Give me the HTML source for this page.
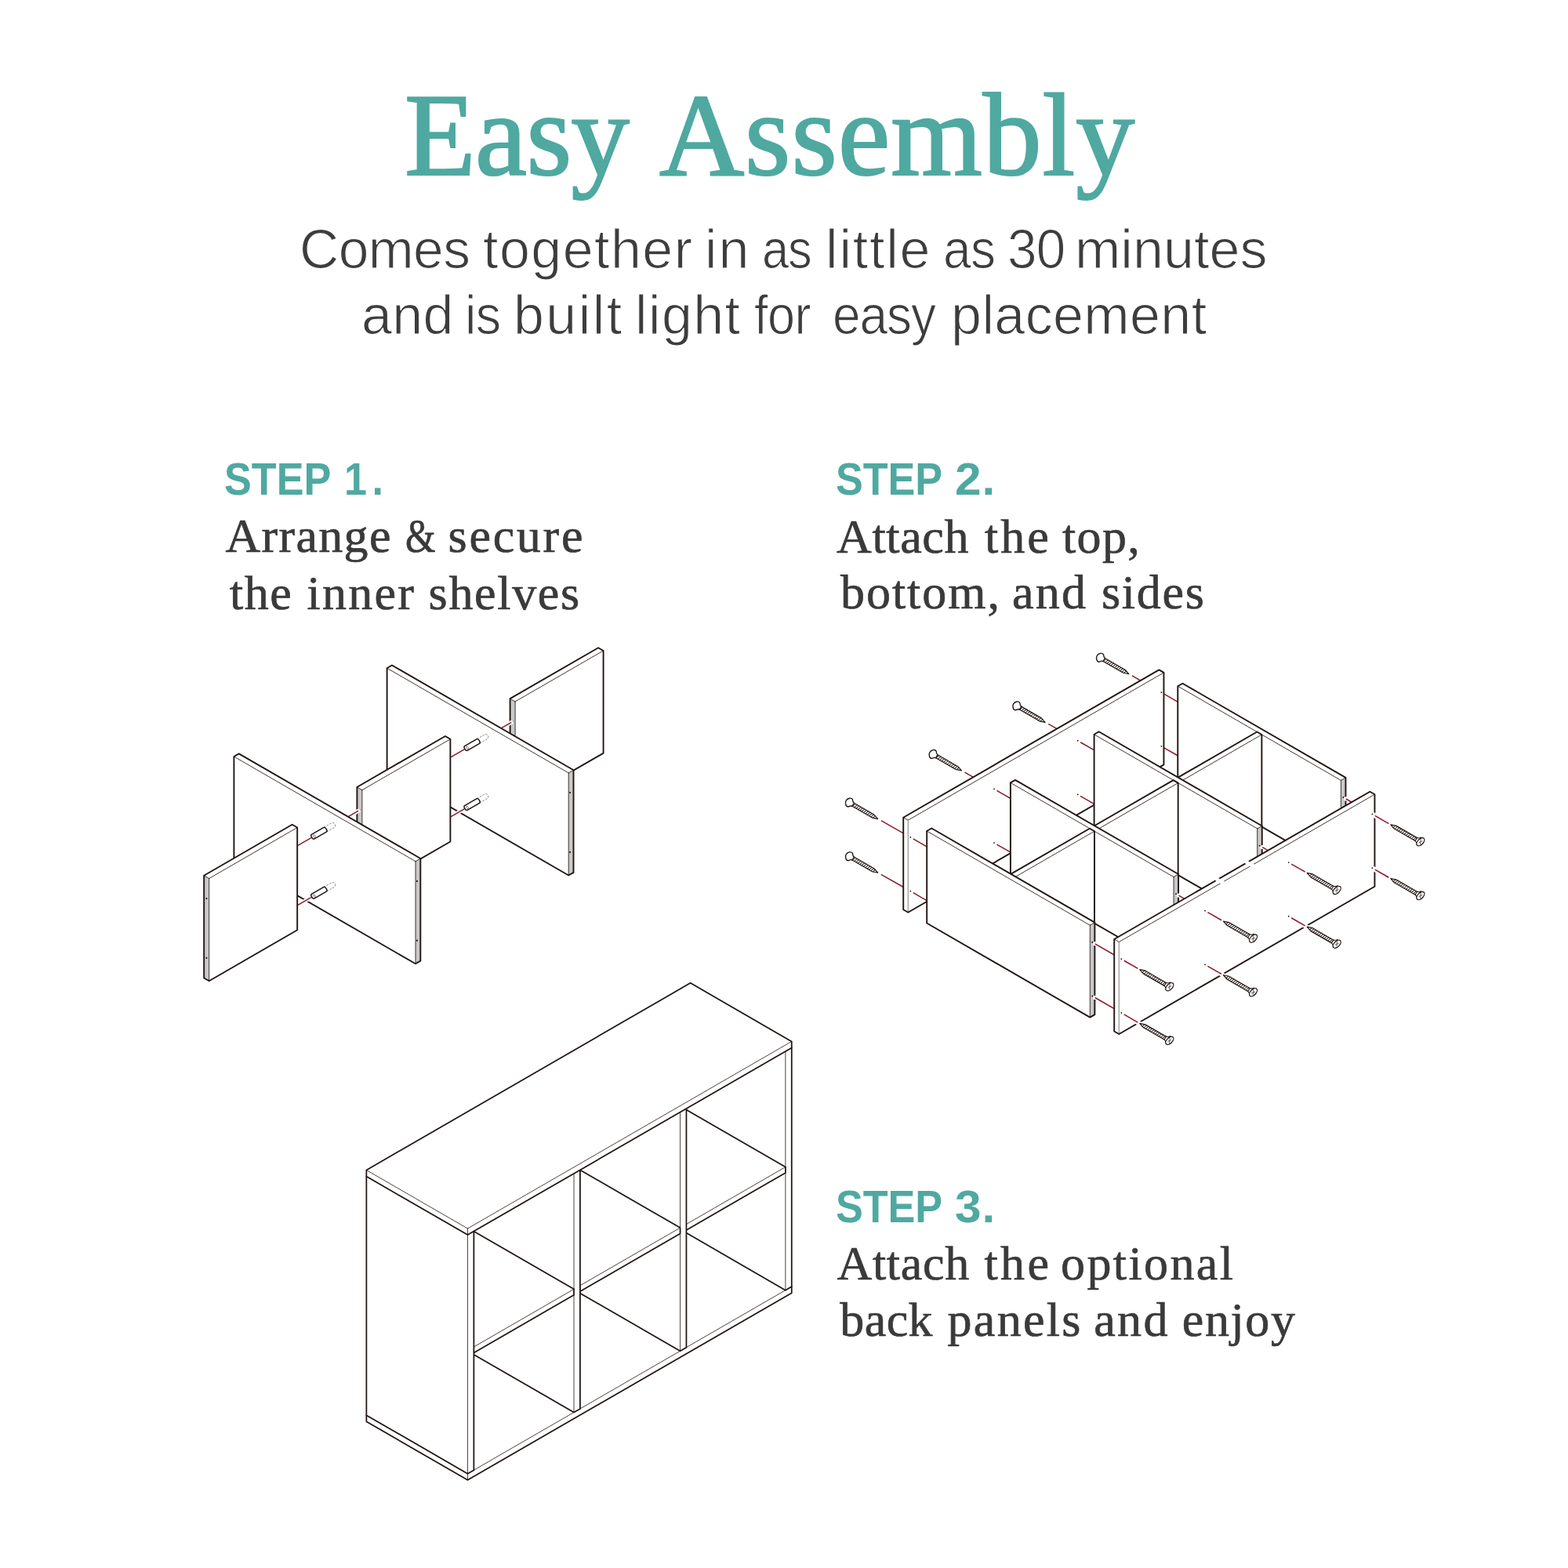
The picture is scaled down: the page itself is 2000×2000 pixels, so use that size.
<!DOCTYPE html><html lang="en"><head><meta charset="utf-8"><title>Easy Assembly</title><style>
html,body{margin:0;padding:0;background:#fff}
body{width:2000px;height:2000px;position:relative;overflow:hidden;font-family:"Liberation Sans",sans-serif}
.art{position:absolute;left:0;top:0;display:block}
.t{position:absolute;left:0;margin:0;padding:0;width:2000px;height:1em;white-space:nowrap;line-height:1;font-weight:400}
.w{position:absolute;top:0;left:0;white-space:pre;transform-origin:0 0}
.title{font-family:"Liberation Serif",serif;color:#4fa9a1}
.sub{font-family:"Liberation Sans",sans-serif;color:#3d3d3d}
.step{font-family:"Liberation Sans",sans-serif;font-weight:700;color:#4fa9a1}
.desc{font-family:"Liberation Serif",serif;color:#3a3a3a}
</style></head><body>
<svg width="2000" height="2000" viewBox="0 0 2000 2000" class="art"><style>.k{fill:none;stroke:#1f1512;stroke-width:1.9;stroke-linejoin:round}.n{fill:none;stroke:#1f1512;stroke-width:0.85;stroke-linecap:round}.d3 .k{stroke-width:1.75}.d3 .n{stroke-width:.8}.r{stroke:#8a1626;stroke-width:1.45}.h{stroke:#fff;stroke-width:5;stroke-linecap:round}</style><defs><symbol id="dw" overflow="visible"><g transform="rotate(-30)"><path d="M18 -3.3H29.5A2.9 3.3 0 0 1 29.5 3.3H18" fill="none" stroke="#7a7a7a" stroke-width="0.8" stroke-dasharray="2.6 1.6"/><path d="M0 -3.3H18A1.7 3.3 0 0 1 18 3.3H0A1.7 3.3 0 0 1 0 -3.3Z" fill="#fff" stroke="#1f1512" stroke-width="1.5" stroke-linejoin="round"/><ellipse cx="1.9" cy="0.3" rx="1.1" ry="1.9" fill="none" stroke="#1f1512" stroke-width="0.5"/></g></symbol><symbol id="sc" overflow="visible"><path d="M0 0L7 -2.3 L38 -2.3 L38 2.3 L7 2.3 Z" fill="#fff" stroke="#1f1512" stroke-width="1.2" stroke-linejoin="round"/><path d="M4.6 2.3L6.3 -2.3M7.32 2.3L9.02 -2.3M10.04 2.3L11.74 -2.3M12.76 2.3L14.46 -2.3M15.48 2.3L17.18 -2.3M18.2 2.3L19.9 -2.3M20.92 2.3L22.62 -2.3M23.64 2.3L25.34 -2.3M26.36 2.3L28.06 -2.3M29.08 2.3L30.78 -2.3M31.8 2.3L33.5 -2.3M34.52 2.3L36.22 -2.3M37.24 2.3L38.94 -2.3" fill="none" stroke="#1f1512" stroke-width="0.95"/><path d="M36.5 -2.3C38.6 -2.5 39.6 -4.2 40.4 -5.4C43 -7 46.8 -3.6 46.8 0C46.8 3.6 43 7 40.4 5.4C39.6 4.2 38.6 2.5 36.5 2.3Z" fill="#fff" stroke="#1f1512" stroke-width="1.35" stroke-linejoin="round"/></symbol><symbol id="sc2" overflow="visible"><path d="M0 0L7 -2.3 L38 -2.3 L38 2.3 L7 2.3 Z" fill="#fff" stroke="#1f1512" stroke-width="1.2" stroke-linejoin="round"/><path d="M4.6 2.3L6.3 -2.3M7.32 2.3L9.02 -2.3M10.04 2.3L11.74 -2.3M12.76 2.3L14.46 -2.3M15.48 2.3L17.18 -2.3M18.2 2.3L19.9 -2.3M20.92 2.3L22.62 -2.3M23.64 2.3L25.34 -2.3M26.36 2.3L28.06 -2.3M29.08 2.3L30.78 -2.3M31.8 2.3L33.5 -2.3M34.52 2.3L36.22 -2.3M37.24 2.3L38.94 -2.3" fill="none" stroke="#1f1512" stroke-width="0.95"/><path d="M37.5 -2.3C39.5 -2.6 40.8 -3.8 41.8 -5.4L41.8 5.4C40.8 3.8 39.5 2.6 37.5 2.3Z" fill="#fff" stroke="#1f1512" stroke-width="1.1" stroke-linejoin="round"/><ellipse cx="44" cy="0" rx="3.5" ry="6.2" fill="#fff" stroke="#1f1512" stroke-width="1.3" transform="rotate(14 44 0)"/><path d="M42.6 -3.2L45.4 3.2M45.6 -2.2L42.4 2.2" fill="none" stroke="#1f1512" stroke-width="0.6"/></symbol></defs><g id="d1"><polygon points="650.6,891.15 763.1,826.2 769.6,829.95 769.6,960.65 657.1,1025.6 650.6,1021.85" fill="#fff" stroke="none"/><polygon points="650.6,891.15 657.1,894.9 657.1,1025.6 650.6,1021.85" fill="#c9c9c9" stroke="none"/><path d="M657.1 894.9L650.6 891.15M657.1 894.9L769.6 829.95M657.1 894.9L657.1 1025.6" class="n"/><polygon points="650.6,891.15 763.1,826.2 769.6,829.95 769.6,960.65 657.1,1025.6 650.6,1021.85" class="k"/><circle cx="653.85" cy="920.52" r="1.05" fill="#1f1512"/><circle cx="653.85" cy="996.32" r="1.05" fill="#1f1512"/><line x1="635.75" y1="930.97" x2="652.25" y2="921.42" class="h"/><line x1="631.85" y1="933.23" x2="652.25" y2="921.42" class="r"/><polygon points="493.62,852.2 499.95,848.55 731.52,982.25 731.52,1112.85 725.2,1116.5 493.62,982.8" fill="#fff" stroke="none"/><polygon points="725.2,985.9 731.52,982.25 731.52,1112.85 725.2,1116.5" fill="#c9c9c9" stroke="none"/><path d="M725.2 985.9L493.62 852.2M725.2 985.9L731.52 982.25M725.2 985.9L725.2 1116.5" class="n"/><polygon points="493.62,852.2 499.95,848.55 731.52,982.25 731.52,1112.85 725.2,1116.5 493.62,982.8" class="k"/><circle cx="727.16" cy="1011.08" r="1.05" fill="#1f1512"/><circle cx="727.16" cy="1086.88" r="1.05" fill="#1f1512"/><polygon points="455.4,1003.95 567.9,939 574.4,942.75 574.4,1073.45 461.9,1138.4 455.4,1134.65" fill="#fff" stroke="none"/><polygon points="455.4,1003.95 461.9,1007.7 461.9,1138.4 455.4,1134.65" fill="#c9c9c9" stroke="none"/><path d="M461.9 1007.7L455.4 1003.95M461.9 1007.7L574.4 942.75M461.9 1007.7L461.9 1138.4" class="n"/><polygon points="455.4,1003.95 567.9,939 574.4,942.75 574.4,1073.45 461.9,1138.4 455.4,1134.65" class="k"/><circle cx="458.65" cy="1033.33" r="1.05" fill="#1f1512"/><circle cx="458.65" cy="1109.12" r="1.05" fill="#1f1512"/><line x1="440.55" y1="1043.77" x2="457.05" y2="1034.23" class="h"/><line x1="436.65" y1="1046.03" x2="457.05" y2="1034.23" class="r"/><line x1="578.7" y1="963.55" x2="592.1" y2="955.8" class="h"/><line x1="574.8" y1="965.8" x2="592.1" y2="955.8" class="r"/><use href="#dw" x="594.3" y="954.5"/><line x1="578.7" y1="1039.55" x2="592.1" y2="1031.8" class="h"/><line x1="574.8" y1="1041.8" x2="592.1" y2="1031.8" class="r"/><use href="#dw" x="594.3" y="1030.5"/><polygon points="298.42,965 304.75,961.35 536.32,1095.05 536.32,1225.65 530,1229.3 298.42,1095.6" fill="#fff" stroke="none"/><polygon points="530,1098.7 536.32,1095.05 536.32,1225.65 530,1229.3" fill="#c9c9c9" stroke="none"/><path d="M530 1098.7L298.42 965M530 1098.7L536.32 1095.05M530 1098.7L530 1229.3" class="n"/><polygon points="298.42,965 304.75,961.35 536.32,1095.05 536.32,1225.65 530,1229.3 298.42,1095.6" class="k"/><circle cx="531.96" cy="1123.88" r="1.05" fill="#1f1512"/><circle cx="531.96" cy="1199.67" r="1.05" fill="#1f1512"/><line x1="383.5" y1="1076.35" x2="396.9" y2="1068.6" class="h"/><line x1="379.6" y1="1078.6" x2="396.9" y2="1068.6" class="r"/><use href="#dw" x="399.1" y="1067.3"/><line x1="383.5" y1="1152.35" x2="396.9" y2="1144.6" class="h"/><line x1="379.6" y1="1154.6" x2="396.9" y2="1144.6" class="r"/><use href="#dw" x="399.1" y="1143.3"/><polygon points="260.2,1116.75 372.7,1051.8 379.2,1055.55 379.2,1186.25 266.7,1251.2 260.2,1247.45" fill="#fff" stroke="none"/><polygon points="260.2,1116.75 266.7,1120.5 266.7,1251.2 260.2,1247.45" fill="#c9c9c9" stroke="none"/><path d="M266.7 1120.5L260.2 1116.75M266.7 1120.5L379.2 1055.55M266.7 1120.5L266.7 1251.2" class="n"/><polygon points="260.2,1116.75 372.7,1051.8 379.2,1055.55 379.2,1186.25 266.7,1251.2 260.2,1247.45" class="k"/><circle cx="263.45" cy="1146.12" r="1.05" fill="#1f1512"/><circle cx="263.45" cy="1221.92" r="1.05" fill="#1f1512"/></g><g id="d2"><use href="#sc" x="1119.73" y="1044.55" transform="rotate(210 1119.73 1044.55)"/><line x1="1123.83" y1="1046.65" x2="1155.33" y2="1064.55" class="r"/><use href="#sc" x="1119.73" y="1113.25" transform="rotate(210 1119.73 1113.25)"/><line x1="1123.83" y1="1115.35" x2="1155.33" y2="1133.25" class="r"/><use href="#sc" x="1226.42" y="982.95" transform="rotate(210 1226.42 982.95)"/><line x1="1230.52" y1="985.05" x2="1262.02" y2="1002.95" class="r"/><use href="#sc" x="1226.42" y="1051.65" transform="rotate(210 1226.42 1051.65)"/><line x1="1230.52" y1="1053.75" x2="1262.02" y2="1071.65" class="r"/><use href="#sc" x="1333.12" y="921.35" transform="rotate(210 1333.12 921.35)"/><line x1="1337.22" y1="923.45" x2="1368.72" y2="941.35" class="r"/><use href="#sc" x="1333.12" y="990.05" transform="rotate(210 1333.12 990.05)"/><line x1="1337.22" y1="992.15" x2="1368.72" y2="1010.05" class="r"/><use href="#sc" x="1439.81" y="859.75" transform="rotate(210 1439.81 859.75)"/><line x1="1443.91" y1="861.85" x2="1475.41" y2="879.75" class="r"/><use href="#sc" x="1439.81" y="928.45" transform="rotate(210 1439.81 928.45)"/><line x1="1443.91" y1="930.55" x2="1475.41" y2="948.45" class="r"/><polygon points="1152.24,1042.7 1478.38,854.4 1484.44,857.9 1484.44,975.4 1158.3,1163.7 1152.24,1160.2" fill="#fff" stroke="none"/><path d="M1158.3 1046.2L1152.24 1042.7M1158.3 1046.2L1484.44 857.9" class="n"/><path d="M1158.3 1046.2L1158.3 1163.7" fill="none" stroke="#9c9c9c" stroke-width="1.3"/><polygon points="1152.24,1042.7 1478.38,854.4 1484.44,857.9 1484.44,975.4 1158.3,1163.7 1152.24,1160.2" class="k"/><circle cx="1161.33" cy="1067.95" r="0.9" fill="#1f1512"/><line x1="1164.73" y1="1069.95" x2="1182.83" y2="1080.35" class="r"/><circle cx="1161.33" cy="1136.65" r="0.9" fill="#1f1512"/><line x1="1164.73" y1="1138.65" x2="1182.83" y2="1149.05" class="r"/><circle cx="1268.02" cy="1006.35" r="0.9" fill="#1f1512"/><line x1="1271.42" y1="1008.35" x2="1289.52" y2="1018.75" class="r"/><circle cx="1268.02" cy="1075.05" r="0.9" fill="#1f1512"/><line x1="1271.42" y1="1077.05" x2="1289.52" y2="1087.45" class="r"/><circle cx="1374.72" cy="944.75" r="0.9" fill="#1f1512"/><line x1="1378.12" y1="946.75" x2="1396.22" y2="957.15" class="r"/><circle cx="1374.72" cy="1013.45" r="0.9" fill="#1f1512"/><line x1="1378.12" y1="1015.45" x2="1396.22" y2="1025.85" class="r"/><circle cx="1481.41" cy="883.15" r="0.9" fill="#1f1512"/><line x1="1484.81" y1="885.15" x2="1502.91" y2="895.55" class="r"/><circle cx="1481.41" cy="951.85" r="0.9" fill="#1f1512"/><line x1="1484.81" y1="953.85" x2="1502.91" y2="964.25" class="r"/><polygon points="1502.28,875.2 1508.35,871.7 1716.45,991.85 1716.45,1109.35 1710.39,1112.85 1502.28,992.7" fill="#fff" stroke="none"/><polygon points="1710.39,995.35 1716.45,991.85 1716.45,1109.35 1710.39,1112.85" fill="#c9c9c9" stroke="none"/><path d="M1710.39 995.35L1502.28 875.2M1710.39 995.35L1716.45 991.85M1710.39 995.35L1710.39 1112.85" class="n"/><polygon points="1502.28,875.2 1508.35,871.7 1716.45,991.85 1716.45,1109.35 1710.39,1112.85 1502.28,992.7" class="k"/><circle cx="1713.42" cy="1017.1" r="1.05" fill="#1f1512"/><circle cx="1713.42" cy="1085.8" r="1.05" fill="#1f1512"/><circle cx="1716.62" cy="1018.9" r="2.6" fill="#fff"/><line x1="1720.72" y1="1021.25" x2="1747.42" y2="1036.7" class="h"/><line x1="1716.82" y1="1019" x2="1747.42" y2="1036.7" class="r"/><circle cx="1716.62" cy="1087.6" r="2.6" fill="#fff"/><line x1="1720.72" y1="1089.95" x2="1747.42" y2="1105.4" class="h"/><line x1="1716.82" y1="1087.7" x2="1747.42" y2="1105.4" class="r"/><polygon points="1502.67,991.62 1603.3,933.52 1609.37,937.02 1609.37,1054.53 1508.73,1112.62 1502.67,1109.12" fill="#fff" stroke="none"/><path d="M1508.73 995.12L1502.67 991.62M1508.73 995.12L1609.37 937.02M1508.73 995.12L1508.73 1112.62" class="n"/><polygon points="1502.67,991.62 1603.3,933.52 1609.37,937.02 1609.37,1054.53 1508.73,1112.62 1502.67,1109.12" class="k"/><polygon points="1395.59,936.8 1401.65,933.3 1609.76,1053.45 1609.76,1170.95 1603.69,1174.45 1395.59,1054.3" fill="#fff" stroke="none"/><polygon points="1603.69,1056.95 1609.76,1053.45 1609.76,1170.95 1603.69,1174.45" fill="#c9c9c9" stroke="none"/><path d="M1603.69 1056.95L1395.59 936.8M1603.69 1056.95L1609.76 1053.45M1603.69 1056.95L1603.69 1174.45" class="n"/><polygon points="1395.59,936.8 1401.65,933.3 1609.76,1053.45 1609.76,1170.95 1603.69,1174.45 1395.59,1054.3" class="k"/><circle cx="1606.73" cy="1078.7" r="1.05" fill="#1f1512"/><circle cx="1606.73" cy="1147.4" r="1.05" fill="#1f1512"/><circle cx="1609.93" cy="1080.5" r="2.6" fill="#fff"/><line x1="1614.02" y1="1082.85" x2="1640.73" y2="1098.3" class="h"/><line x1="1610.13" y1="1080.6" x2="1640.73" y2="1098.3" class="r"/><circle cx="1609.93" cy="1149.2" r="2.6" fill="#fff"/><line x1="1614.02" y1="1151.55" x2="1640.73" y2="1167" class="h"/><line x1="1610.13" y1="1149.3" x2="1640.73" y2="1167" class="r"/><polygon points="1395.98,1053.22 1496.61,995.12 1502.67,998.62 1502.67,1116.12 1402.04,1174.22 1395.98,1170.72" fill="#fff" stroke="none"/><path d="M1402.04 1056.72L1395.98 1053.22M1402.04 1056.72L1502.67 998.62M1402.04 1056.72L1402.04 1174.22" class="n"/><polygon points="1395.98,1053.22 1496.61,995.12 1502.67,998.62 1502.67,1116.12 1402.04,1174.22 1395.98,1170.72" class="k"/><polygon points="1288.89,998.4 1294.96,994.9 1503.06,1115.05 1503.06,1232.55 1497,1236.05 1288.89,1115.9" fill="#fff" stroke="none"/><polygon points="1497,1118.55 1503.06,1115.05 1503.06,1232.55 1497,1236.05" fill="#c9c9c9" stroke="none"/><path d="M1497 1118.55L1288.89 998.4M1497 1118.55L1503.06 1115.05M1497 1118.55L1497 1236.05" class="n"/><polygon points="1288.89,998.4 1294.96,994.9 1503.06,1115.05 1503.06,1232.55 1497,1236.05 1288.89,1115.9" class="k"/><circle cx="1500.03" cy="1140.3" r="1.05" fill="#1f1512"/><circle cx="1500.03" cy="1209" r="1.05" fill="#1f1512"/><circle cx="1503.23" cy="1142.1" r="2.6" fill="#fff"/><line x1="1507.33" y1="1144.45" x2="1534.03" y2="1159.9" class="h"/><line x1="1503.43" y1="1142.2" x2="1534.03" y2="1159.9" class="r"/><circle cx="1503.23" cy="1210.8" r="2.6" fill="#fff"/><line x1="1507.33" y1="1213.15" x2="1534.03" y2="1228.6" class="h"/><line x1="1503.43" y1="1210.9" x2="1534.03" y2="1228.6" class="r"/><polygon points="1289.28,1114.83 1389.92,1056.73 1395.98,1060.23 1395.98,1177.73 1295.35,1235.83 1289.28,1232.33" fill="#fff" stroke="none"/><path d="M1295.35 1118.33L1289.28 1114.83M1295.35 1118.33L1395.98 1060.23M1295.35 1118.33L1295.35 1235.83" class="n"/><polygon points="1289.28,1114.83 1389.92,1056.73 1395.98,1060.23 1395.98,1177.73 1295.35,1235.83 1289.28,1232.33" class="k"/><polygon points="1182.2,1060 1188.26,1056.5 1396.37,1176.65 1396.37,1294.15 1390.31,1297.65 1182.2,1177.5" fill="#fff" stroke="none"/><polygon points="1390.31,1180.15 1396.37,1176.65 1396.37,1294.15 1390.31,1297.65" fill="#c9c9c9" stroke="none"/><path d="M1390.31 1180.15L1182.2 1060M1390.31 1180.15L1396.37 1176.65M1390.31 1180.15L1390.31 1297.65" class="n"/><polygon points="1182.2,1060 1188.26,1056.5 1396.37,1176.65 1396.37,1294.15 1390.31,1297.65 1182.2,1177.5" class="k"/><circle cx="1393.34" cy="1201.9" r="1.05" fill="#1f1512"/><circle cx="1393.34" cy="1270.6" r="1.05" fill="#1f1512"/><circle cx="1396.54" cy="1203.7" r="2.6" fill="#fff"/><line x1="1400.63" y1="1206.05" x2="1427.34" y2="1221.5" class="h"/><line x1="1396.74" y1="1203.8" x2="1427.34" y2="1221.5" class="r"/><circle cx="1396.54" cy="1272.4" r="2.6" fill="#fff"/><line x1="1400.63" y1="1274.75" x2="1427.34" y2="1290.2" class="h"/><line x1="1396.74" y1="1272.5" x2="1427.34" y2="1290.2" class="r"/><polygon points="1421.22,1198 1747.37,1009.7 1753.43,1013.2 1753.43,1130.7 1427.29,1319 1421.22,1315.5" fill="#fff" stroke="none"/><path d="M1427.29 1201.5L1421.22 1198M1427.29 1201.5L1753.43 1013.2" class="n"/><path d="M1427.29 1201.5L1427.29 1319" fill="none" stroke="#9c9c9c" stroke-width="1.3"/><polygon points="1421.22,1198 1747.37,1009.7 1753.43,1013.2 1753.43,1130.7 1427.29,1319 1421.22,1315.5" class="k"/><line x1="1551.1" y1="1120.9" x2="1562" y2="1127.2" stroke="#fff" stroke-width="4.6"/><line x1="1588.8" y1="1099" x2="1599.7" y2="1105.3" stroke="#fff" stroke-width="4.6"/><line x1="1432.02" y1="1224.25" x2="1451.32" y2="1235.35" stroke="#fff" stroke-width="6" stroke-linecap="round"/><circle cx="1430.32" cy="1223.25" r="0.9" fill="#1f1512"/><line x1="1433.72" y1="1225.25" x2="1451.32" y2="1235.35" class="r"/><line x1="1452.72" y1="1236.05" x2="1483.72" y2="1253.95" stroke="#fff" stroke-width="5"/><use href="#sc2" x="1453.72" y="1236.65" transform="rotate(30 1453.72 1236.65)"/><line x1="1432.02" y1="1292.95" x2="1451.32" y2="1304.05" stroke="#fff" stroke-width="6" stroke-linecap="round"/><circle cx="1430.32" cy="1291.95" r="0.9" fill="#1f1512"/><line x1="1433.72" y1="1293.95" x2="1451.32" y2="1304.05" class="r"/><line x1="1452.72" y1="1304.75" x2="1483.72" y2="1322.65" stroke="#fff" stroke-width="5"/><use href="#sc2" x="1453.72" y="1305.35" transform="rotate(30 1453.72 1305.35)"/><line x1="1538.71" y1="1162.65" x2="1558.01" y2="1173.75" stroke="#fff" stroke-width="6" stroke-linecap="round"/><circle cx="1537.01" cy="1161.65" r="0.9" fill="#1f1512"/><line x1="1540.41" y1="1163.65" x2="1558.01" y2="1173.75" class="r"/><line x1="1559.41" y1="1174.45" x2="1590.41" y2="1192.35" stroke="#fff" stroke-width="5"/><use href="#sc2" x="1560.41" y="1175.05" transform="rotate(30 1560.41 1175.05)"/><line x1="1538.71" y1="1231.35" x2="1558.01" y2="1242.45" stroke="#fff" stroke-width="6" stroke-linecap="round"/><circle cx="1537.01" cy="1230.35" r="0.9" fill="#1f1512"/><line x1="1540.41" y1="1232.35" x2="1558.01" y2="1242.45" class="r"/><line x1="1559.41" y1="1243.15" x2="1590.41" y2="1261.05" stroke="#fff" stroke-width="5"/><use href="#sc2" x="1560.41" y="1243.75" transform="rotate(30 1560.41 1243.75)"/><line x1="1645.4" y1="1101.05" x2="1664.7" y2="1112.15" stroke="#fff" stroke-width="6" stroke-linecap="round"/><circle cx="1643.7" cy="1100.05" r="0.9" fill="#1f1512"/><line x1="1647.1" y1="1102.05" x2="1664.7" y2="1112.15" class="r"/><line x1="1666.1" y1="1112.85" x2="1697.1" y2="1130.75" stroke="#fff" stroke-width="5"/><use href="#sc2" x="1667.1" y="1113.45" transform="rotate(30 1667.1 1113.45)"/><line x1="1645.4" y1="1169.75" x2="1664.7" y2="1180.85" stroke="#fff" stroke-width="6" stroke-linecap="round"/><circle cx="1643.7" cy="1168.75" r="0.9" fill="#1f1512"/><line x1="1647.1" y1="1170.75" x2="1664.7" y2="1180.85" class="r"/><line x1="1666.1" y1="1181.55" x2="1697.1" y2="1199.45" stroke="#fff" stroke-width="5"/><use href="#sc2" x="1667.1" y="1182.15" transform="rotate(30 1667.1 1182.15)"/><line x1="1752.1" y1="1039.45" x2="1771.4" y2="1050.55" stroke="#fff" stroke-width="6" stroke-linecap="round"/><circle cx="1750.4" cy="1038.45" r="0.9" fill="#1f1512"/><line x1="1753.8" y1="1040.45" x2="1771.4" y2="1050.55" class="r"/><line x1="1772.8" y1="1051.25" x2="1803.8" y2="1069.15" stroke="#fff" stroke-width="5"/><use href="#sc2" x="1773.8" y="1051.85" transform="rotate(30 1773.8 1051.85)"/><line x1="1752.1" y1="1108.15" x2="1771.4" y2="1119.25" stroke="#fff" stroke-width="6" stroke-linecap="round"/><circle cx="1750.4" cy="1107.15" r="0.9" fill="#1f1512"/><line x1="1753.8" y1="1109.15" x2="1771.4" y2="1119.25" class="r"/><line x1="1772.8" y1="1119.95" x2="1803.8" y2="1137.85" stroke="#fff" stroke-width="5"/><use href="#sc2" x="1773.8" y="1120.55" transform="rotate(30 1773.8 1120.55)"/></g><g id="d3" class="d3"><polygon points="467.38,1805.15 880.64,1566.55 1009.77,1641.1 1009.77,1649.2 596.5,1887.8 467.38,1813.25" fill="#fff" stroke="none"/><path d="M596.5 1879.7L467.38 1805.15M596.5 1879.7L1009.77 1641.1M596.5 1879.7L596.5 1887.8" class="n"/><polygon points="467.38,1805.15 880.64,1566.55 1009.77,1641.1 1009.77,1649.2 596.5,1887.8 467.38,1813.25" class="k"/><polygon points="872.76,1266.5 880.64,1261.95 1009.77,1336.5 1009.77,1641.1 1001.89,1645.65 872.76,1571.1" fill="#fff" stroke="none"/><path d="M1001.89 1341.05L872.76 1266.5M1001.89 1341.05L1009.77 1336.5M1001.89 1341.05L1001.89 1645.65" class="n"/><polygon points="872.76,1266.5 880.64,1261.95 1009.77,1336.5 1009.77,1641.1 1001.89,1645.65 872.76,1571.1" class="k"/><polygon points="746.32,1486.95 872.76,1413.95 1001.89,1488.5 1001.89,1495.9 875.45,1568.9 746.32,1494.35" fill="#fff" stroke="none"/><path d="M875.45 1561.5L746.32 1486.95M875.45 1561.5L1001.89 1488.5M875.45 1561.5L875.45 1568.9" class="n"/><polygon points="746.32,1486.95 872.76,1413.95 1001.89,1488.5 1001.89,1495.9 875.45,1568.9 746.32,1494.35" class="k"/><polygon points="738.44,1344.05 746.32,1339.5 875.45,1414.05 875.45,1718.65 867.57,1723.2 738.44,1648.65" fill="#fff" stroke="none"/><path d="M867.57 1418.6L738.44 1344.05M867.57 1418.6L875.45 1414.05M867.57 1418.6L867.57 1723.2" class="n"/><polygon points="738.44,1344.05 746.32,1339.5 875.45,1414.05 875.45,1718.65 867.57,1723.2 738.44,1648.65" class="k"/><polygon points="610.79,1565.2 738.44,1491.5 867.57,1566.05 867.57,1573.45 739.91,1647.15 610.79,1572.6" fill="#fff" stroke="none"/><path d="M739.91 1639.75L610.79 1565.2M739.91 1639.75L867.57 1566.05M739.91 1639.75L739.91 1647.15" class="n"/><polygon points="610.79,1565.2 738.44,1491.5 867.57,1566.05 867.57,1573.45 739.91,1647.15 610.79,1572.6" class="k"/><polygon points="602.91,1422.3 610.79,1417.75 739.91,1492.3 739.91,1796.9 732.03,1801.45 602.91,1726.9" fill="#fff" stroke="none"/><path d="M732.03 1496.85L602.91 1422.3M732.03 1496.85L739.91 1492.3M732.03 1496.85L732.03 1801.45" class="n"/><polygon points="602.91,1422.3 610.79,1417.75 739.91,1492.3 739.91,1796.9 732.03,1801.45 602.91,1726.9" class="k"/><polygon points="475.26,1643.45 602.91,1569.75 732.03,1644.3 732.03,1651.7 604.38,1725.4 475.26,1650.85" fill="#fff" stroke="none"/><path d="M604.38 1718L475.26 1643.45M604.38 1718L732.03 1644.3M604.38 1718L604.38 1725.4" class="n"/><polygon points="475.26,1643.45 602.91,1569.75 732.03,1644.3 732.03,1651.7 604.38,1725.4 475.26,1650.85" class="k"/><polygon points="467.38,1500.55 475.26,1496 604.38,1570.55 604.38,1875.15 596.5,1879.7 467.38,1805.15" fill="#fff" stroke="none"/><path d="M596.5 1575.1L467.38 1500.55M596.5 1575.1L604.38 1570.55M596.5 1575.1L596.5 1879.7" class="n"/><polygon points="467.38,1500.55 475.26,1496 604.38,1570.55 604.38,1875.15 596.5,1879.7 467.38,1805.15" class="k"/><polygon points="467.38,1492.45 880.64,1253.85 1009.77,1328.4 1009.77,1336.5 596.5,1575.1 467.38,1500.55" fill="#fff" stroke="none"/><path d="M596.5 1567L467.38 1492.45M596.5 1567L1009.77 1328.4M596.5 1567L596.5 1575.1" class="n"/><polygon points="467.38,1492.45 880.64,1253.85 1009.77,1328.4 1009.77,1336.5 596.5,1575.1 467.38,1500.55" class="k"/></g></svg>
<h1 class="t title" id="t0" style="top:96.71px;font-size:150px;-webkit-text-stroke:2.2px currentColor;"><span class="w" style="left:516px;letter-spacing:-0.6px;transform:scaleX(0.9899);">Easy</span> <span class="w" style="left:840.9px;letter-spacing:0.9px;">Assembly</span></h1>
<p class="t sub" id="t1" style="top:283px;font-size:70px;-webkit-text-stroke:1.1px #fff;"><span class="w" style="left:382px;letter-spacing:-0.6px;transform:scaleX(0.9939);">Comes</span> <span class="w" style="left:616.1px;letter-spacing:1.43px;">together</span> <span class="w" style="left:899px;letter-spacing:2px;">in</span> <span class="w" style="left:972px;letter-spacing:-1.4px;transform:scaleX(0.878);">as</span> <span class="w" style="left:1053.1px;letter-spacing:1.76px;">little</span> <span class="w" style="left:1203px;letter-spacing:-0.6px;transform:scaleX(0.9142);">as</span> <span class="w" style="left:1285.1px;letter-spacing:-0.6px;transform:scaleX(0.9616);">30</span> <span class="w" style="left:1370.9px;letter-spacing:0.07px;">minutes</span></p>
<p class="t sub" id="t2" style="top:367px;font-size:70px;-webkit-text-stroke:1.1px #fff;"><span class="w" style="left:461px;letter-spacing:0.3px;">and</span> <span class="w" style="left:593.1px;letter-spacing:-0.6px;transform:scaleX(0.9275);">is</span> <span class="w" style="left:655px;letter-spacing:2.42px;">built</span> <span class="w" style="left:810px;letter-spacing:1.4px;">light</span> <span class="w" style="left:962.1px;letter-spacing:-0.6px;transform:scaleX(0.8997);">for</span> <span class="w" style="left:1062px;letter-spacing:-1.22px;transform:scaleX(0.9151);">easy</span> <span class="w" style="left:1213.1px;letter-spacing:0.38px;">placement</span></p>
<h2 class="t step" id="t3" style="top:581.75px;font-size:58px;"><span class="w" style="left:286px;transform:scaleX(0.9);">STEP</span> <span class="w" style="left:438.5px;letter-spacing:7.22px;transform:scaleX(0.9);">1.</span></h2>
<p class="t desc" id="t4" style="top:651.75px;font-size:62px;-webkit-text-stroke:0.7px currentColor;"><span class="w" style="left:287.5px;letter-spacing:1.3px;">Arrange</span> <span class="w" style="left:516.6px;transform:scaleX(0.8);">&amp;</span> <span class="w" style="left:571.6px;letter-spacing:2.7px;">secure</span></p>
<p class="t desc" id="t5" style="top:725px;font-size:62px;-webkit-text-stroke:0.7px currentColor;"><span class="w" style="left:293px;letter-spacing:1.5px;">the</span> <span class="w" style="left:391.5px;letter-spacing:2.25px;">inner</span> <span class="w" style="left:546.6px;letter-spacing:1.68px;">shelves</span></p>
<h2 class="t step" id="t6" style="top:582px;font-size:58px;"><span class="w" style="left:1066.1px;letter-spacing:-0.11px;transform:scaleX(0.9);">STEP</span> <span class="w" style="left:1218px;letter-spacing:1px;transform:scaleX(1.0411);">2.</span></h2>
<p class="t desc" id="t7" style="top:653px;font-size:62px;-webkit-text-stroke:0.7px currentColor;"><span class="w" style="left:1067.1px;letter-spacing:0.62px;">Attach</span> <span class="w" style="left:1256px;letter-spacing:3px;">the</span> <span class="w" style="left:1355px;letter-spacing:1.33px;">top,</span></p>
<p class="t desc" id="t8" style="top:724px;font-size:62px;-webkit-text-stroke:0.7px currentColor;"><span class="w" style="left:1071.9px;letter-spacing:2px;">bottom,</span> <span class="w" style="left:1291.1px;letter-spacing:2.25px;">and</span> <span class="w" style="left:1404.9px;letter-spacing:1.75px;">sides</span></p>
<h2 class="t step" id="t9" style="top:1509.71px;font-size:58px;"><span class="w" style="left:1066.1px;letter-spacing:-0.11px;transform:scaleX(0.9);">STEP</span> <span class="w" style="left:1218px;letter-spacing:1px;transform:scaleX(1.0411);">3.</span></h2>
<p class="t desc" id="t10" style="top:1580.21px;font-size:62px;-webkit-text-stroke:0.7px currentColor;"><span class="w" style="left:1067.5px;letter-spacing:0.68px;">Attach</span> <span class="w" style="left:1255.4px;letter-spacing:3.5px;">the</span> <span class="w" style="left:1353px;letter-spacing:2.39px;">optional</span></p>
<p class="t desc" id="t11" style="top:1651.61px;font-size:62px;-webkit-text-stroke:0.7px currentColor;"><span class="w" style="left:1071.3px;letter-spacing:0.43px;">back</span> <span class="w" style="left:1208.5px;letter-spacing:2.32px;">panels</span> <span class="w" style="left:1395.3px;letter-spacing:2.3px;">and</span> <span class="w" style="left:1507.8px;letter-spacing:1.6px;">enjoy</span></p>
</body></html>
